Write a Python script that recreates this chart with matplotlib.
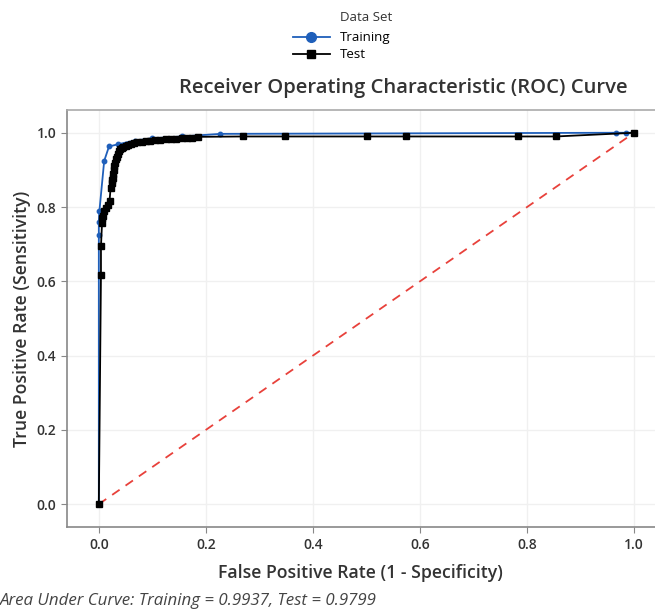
import matplotlib
matplotlib.use("Agg")
import matplotlib.pyplot as plt
from matplotlib.lines import Line2D

# ---------- data ----------
train_fpr = [0.0, 0.0, 0.0, 0.001, 0.010, 0.019, 0.036, 0.067, 0.100, 0.155,
             0.227, 0.967, 0.985, 1.0]
train_tpr = [0.0, 0.725, 0.761, 0.788, 0.924, 0.963, 0.969, 0.979, 0.985, 0.990,
             0.997, 1.0, 1.0, 1.0]

test_fpr = [0.0, 0.004, 0.004, 0.006, 0.006, 0.008, 0.010, 0.014, 0.018, 0.020, 0.022,
            0.024, 0.025, 0.026, 0.027, 0.028, 0.029, 0.030, 0.032, 0.034, 0.036,
            0.038, 0.040, 0.043, 0.046, 0.050, 0.055, 0.060, 0.066, 0.072, 0.080,
            0.088, 0.096, 0.105, 0.115, 0.125, 0.135, 0.145, 0.155, 0.165, 0.175,
            0.185, 0.269, 0.348, 0.501, 0.574, 0.783, 0.854, 1.0]
test_tpr = [0.0, 0.617, 0.694, 0.757, 0.770, 0.776, 0.790, 0.798, 0.806, 0.815, 0.852,
            0.865, 0.872, 0.879, 0.890, 0.900, 0.910, 0.919, 0.928, 0.936, 0.943,
            0.950, 0.955, 0.958, 0.962, 0.965, 0.968, 0.970, 0.972, 0.974, 0.976,
            0.978, 0.979, 0.980, 0.981, 0.982, 0.983, 0.984, 0.985, 0.986, 0.987,
            0.989, 0.990, 0.990, 0.990, 0.990, 0.990, 0.990, 1.0]

ticks = [0.0, 0.2, 0.4, 0.6, 0.8, 1.0]
auc_train = 0.9937
auc_test = 0.9799

blue = "#1f5fba"
txt = "#333333"
plt.rcParams["font.family"] = ["Open Sans", "DejaVu Sans"]

fig = plt.figure(figsize=(6.55, 6.13), dpi=100)
ax = fig.add_axes([0.102, 0.140, 0.898, 0.681])

ax.plot([0, 1], [0, 1], color="#e8413b", lw=1.3, dashes=(5, 4), zorder=2)
ax.plot(train_fpr, train_tpr, color=blue, lw=1.3, marker="o", ms=3.2, zorder=3)
ax.plot(test_fpr, test_tpr, color="black", lw=1.3, marker="s", ms=5, zorder=4)

ax.set_xlim(-0.0598, 1.039)
ax.set_ylim(-0.062, 1.062)
ax.set_xticks(ticks)
ax.set_yticks(ticks)
ax.set_xticklabels([f"{t:.1f}" for t in ticks])
ax.set_yticklabels([f"{t:.1f}" for t in ticks])
ax.grid(True, color="#f0f0f0", lw=1)
ax.set_axisbelow(True)
ax.tick_params(colors="#888888", labelcolor=txt, labelsize=10, length=4, width=0.8)
for lab in ax.get_xticklabels() + ax.get_yticklabels():
    lab.set_fontweight("semibold")

ax.spines["right"].set_visible(False)
ax.spines["top"].set_color("#aaaaaa")
ax.spines["left"].set_color("#888888")
ax.spines["bottom"].set_color("#888888")
for s in ax.spines.values():
    s.set_linewidth(1.2)

ax.set_xlabel("False Positive Rate (1 - Specificity)", fontsize=12.7, fontweight="semibold",
              color=txt, labelpad=9)
ax.set_ylabel("True Positive Rate (Sensitivity)", fontsize=12.7, fontweight="semibold",
              color=txt, labelpad=4)

fig.text(0.615, 0.857, "Receiver Operating Characteristic (ROC) Curve", ha="center",
         va="center", fontsize=14.6, fontweight="semibold", color=txt)

handles = [Line2D([], [], color=blue, lw=1.3, marker="o", ms=7),
           Line2D([], [], color="black", lw=1.3, marker="s", ms=6)]
fig.legend(handles, ["Training", "Test"], loc="upper left", bbox_to_anchor=(0.447, 0.949),
           frameon=False, fontsize=9.5, handlelength=2.8, handletextpad=0.75,
           labelspacing=0.3, borderaxespad=0, borderpad=0)
fig.text(0.519, 0.971, "Data Set", ha="left", va="center", fontsize=9.5, color=txt)

fig.text(0.0, 0.019, f"Area Under Curve: Training = {auc_train:.4f}, Test = {auc_test:.4f}",
         ha="left", va="center", fontsize=12.2, style="italic", color="#444444")

fig.savefig("out.png", dpi=100)
